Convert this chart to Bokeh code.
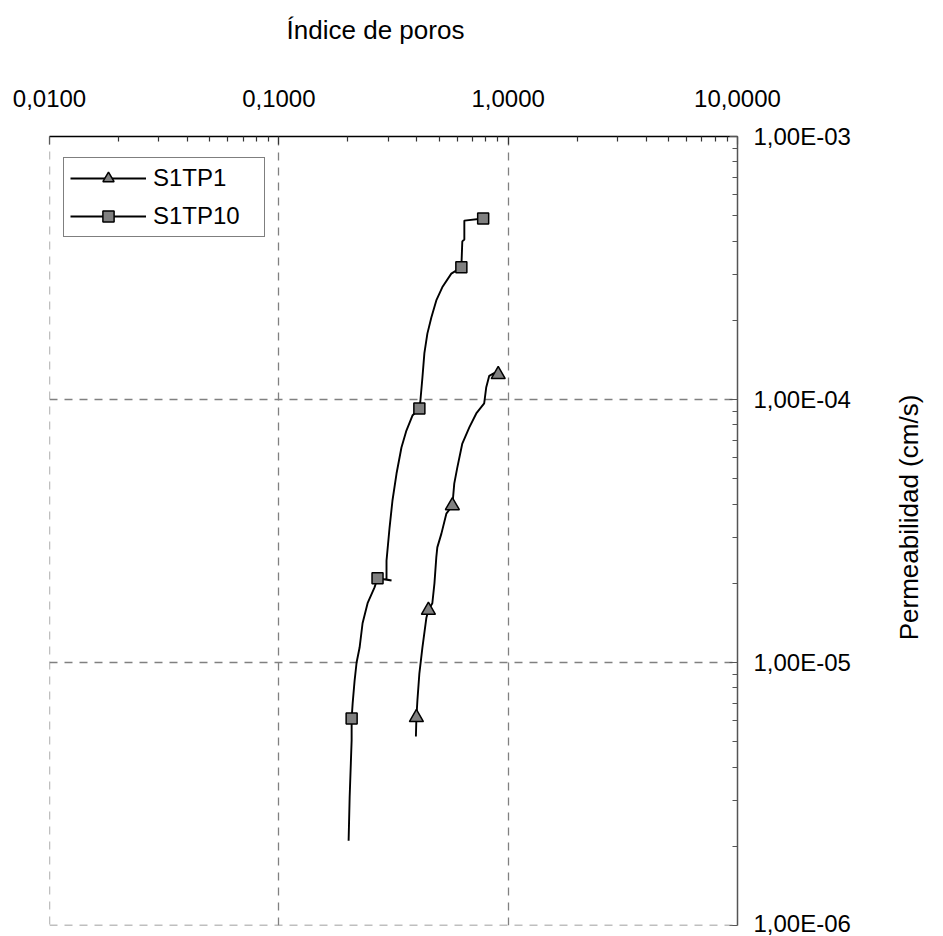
import math
from bokeh.plotting import figure
from bokeh.models import (Range1d, FixedTicker, CustomJSTickFormatter, Legend, LegendItem, Span, Label)
from bokeh.embed import file_html
from bokeh.resources import INLINE

# ---- data ----
s1tp10_x = [0.778, 0.644, 0.644, 0.631, 0.625, 0.565, 0.516, 0.486, 0.4624, 0.4443,
            0.4312, 0.4227, 0.4143, 0.410, 0.3825, 0.360, 0.3425, 0.326, 0.313, 0.304,
            0.2948, 0.2948, 0.310, 0.2694, 0.2614, 0.2438, 0.2318, 0.225, 0.2183, 0.214,
            0.2098, 0.2077, 0.2077, 0.2036, 0.2015]
s1tp10_y = [4.88e-4, 4.79e-4, 4.06e-4, 3.99e-4, 3.18e-4, 3.01e-4, 2.67e-4, 2.38e-4, 2.05e-4, 1.78e-4,
            1.50e-4, 1.21e-4, 9.91e-5, 9.24e-5, 8.69e-5, 7.62e-5, 6.57e-5, 5.23e-5, 4.13e-5, 3.26e-5,
            2.44e-5, 2.07e-5, 2.05e-5, 2.09e-5, 1.93e-5, 1.68e-5, 1.41e-5, 1.14e-5, 1.0e-5, 8.54e-6,
            6.98e-6, 6.12e-6, 5.05e-6, 3.07e-6, 2.10e-6]
s1tp10_mx = [0.778, 0.625, 0.410, 0.2694, 0.2077]
s1tp10_my = [4.88e-4, 3.18e-4, 9.24e-5, 2.09e-5, 6.12e-6]

s1tp1_x = [0.396, 0.398, 0.402, 0.410, 0.4227, 0.440, 0.449, 0.467, 0.477, 0.486, 0.491,
           0.5115, 0.5375, 0.571, 0.582, 0.600, 0.631, 0.677, 0.726, 0.786, 0.802, 0.827,
           0.869, 0.905]
s1tp1_y = [5.23e-6, 6.18e-6, 7.17e-6, 9.08e-6, 1.14e-5, 1.48e-5, 1.58e-5, 1.68e-5, 2.00e-5, 2.51e-5, 2.74e-5,
           3.09e-5, 3.68e-5, 3.95e-5, 4.79e-5, 5.51e-5, 6.80e-5, 7.83e-5, 8.85e-5, 9.66e-5, 1.11e-4, 1.23e-4,
           1.26e-4, 1.245e-4]
s1tp1_mx = [0.398, 0.449, 0.571, 0.905]
s1tp1_my = [6.18e-6, 1.58e-5, 3.95e-5, 1.245e-4]

x_major = [0.01, 0.1, 1, 10]
x_minor = [m * d for d in (0.01, 0.1, 1) for m in range(2, 10)]
y_major = [1e-6, 1e-5, 1e-4, 1e-3]
y_minor = [m * d for d in (1e-6, 1e-5, 1e-4) for m in range(2, 10)]

x_title = "Índice de poros"
y_title = "Permeabilidad (cm/s)"

FONT = "Liberation Sans"
GRID_COLOR = "#808080"
GRID_DASH = "8 7"

p = figure(width=943, height=936, x_axis_type="log", y_axis_type="log",
           x_axis_location="above", y_axis_location="right", title=None,
           x_range=Range1d(x_major[0], x_major[-1]), y_range=Range1d(y_major[0], y_major[-1]),
           output_backend="svg", toolbar_location=None,
           min_border_left=49, min_border_right=206, min_border_top=136, min_border_bottom=11)
p.outline_line_color = None
p.background_fill_color = "white"
p.border_fill_color = "white"

xa = p.xaxis[0]
xa.ticker = FixedTicker(ticks=x_major, minor_ticks=x_minor)
xa.formatter = CustomJSTickFormatter(code="return tick.toFixed(4).replace('.', ',');")
ya = p.yaxis[0]
ya.ticker = FixedTicker(ticks=y_major, minor_ticks=y_minor)
ya.formatter = CustomJSTickFormatter(code="""
const s = tick.toExponential(2);
const parts = s.split('e');
const n = parseInt(parts[1]);
const sign = n < 0 ? '-' : '+';
const a = Math.abs(n).toString().padStart(2, '0');
return parts[0].replace('.', ',') + 'E' + sign + a;
""")

for ax in (xa, ya):
    ax.major_label_text_font = FONT
    ax.major_label_text_font_size = "24px"
    ax.major_label_text_color = "black"
    ax.major_tick_out = 0
    ax.major_tick_in = 8
    ax.minor_tick_out = 0
    ax.minor_tick_in = 5
    ax.axis_line_width = 1.5
    ax.major_tick_line_width = 1.2
    ax.minor_tick_line_width = 1.2

xa.axis_line_color = "black"
xa.major_tick_line_color = "#333333"
xa.minor_tick_line_color = "#333333"
ya.axis_line_color = "#555555"
ya.major_tick_line_color = "#555555"
ya.minor_tick_line_color = "#555555"
xa.major_label_standoff = 30
ya.major_label_standoff = 16

# axis titles as labels in their own side panels
p.add_layout(Label(x=326, y=57, x_units="screen", y_units="screen", text=x_title,
                   text_align="center", text_baseline="middle",
                   text_font=FONT, text_font_size="26px", text_color="black"), "above")
p.add_layout(Label(x=55, y=408, x_units="screen", y_units="screen", text=y_title,
                   angle=math.pi / 2, text_align="center", text_baseline="middle",
                   text_font=FONT, text_font_size="26px", text_color="black"), "right")

for g in (p.xgrid[0], p.ygrid[0]):
    g.grid_line_color = GRID_COLOR
    g.grid_line_dash = GRID_DASH
    g.grid_line_width = 1.3
p.xgrid[0].ticker = FixedTicker(ticks=x_major)
p.ygrid[0].ticker = FixedTicker(ticks=y_major)

# dashed lines on the left and bottom edges (grid at the range limits)
p.add_layout(Span(location=x_major[0], dimension="height", line_color=GRID_COLOR,
                  line_dash=GRID_DASH, line_width=1.3))
p.add_layout(Span(location=y_major[0], dimension="width", line_color=GRID_COLOR,
                  line_dash=GRID_DASH, line_width=1.3))

l1 = p.line(s1tp1_x, s1tp1_y, line_color="black", line_width=1.9)
m1 = p.scatter(s1tp1_mx, s1tp1_my, marker="triangle", size=14,
               fill_color="#808080", line_color="black", line_width=1.5)
l2 = p.line(s1tp10_x, s1tp10_y, line_color="black", line_width=1.9)
m2 = p.scatter(s1tp10_mx, s1tp10_my, marker="square", size=11,
               fill_color="#808080", line_color="black", line_width=1.5)

legend = Legend(items=[LegendItem(label="S1TP1", renderers=[l1, m1]),
                       LegendItem(label="S1TP10", renderers=[l2, m2])],
                location=(14, 688), orientation="vertical")
legend.label_text_font = FONT
legend.label_text_font_size = "24px"
legend.label_text_color = "black"
legend.border_line_color = "black"
legend.border_line_width = 1
legend.background_fill_alpha = 1
legend.padding = 6
legend.spacing = 10
legend.glyph_width = 76
legend.glyph_height = 28
legend.label_height = 28
legend.label_standoff = 7
legend.label_width = 105
legend.margin = 0
p.add_layout(legend, "center")

open("out.html", "w").write(file_html(p, INLINE))
